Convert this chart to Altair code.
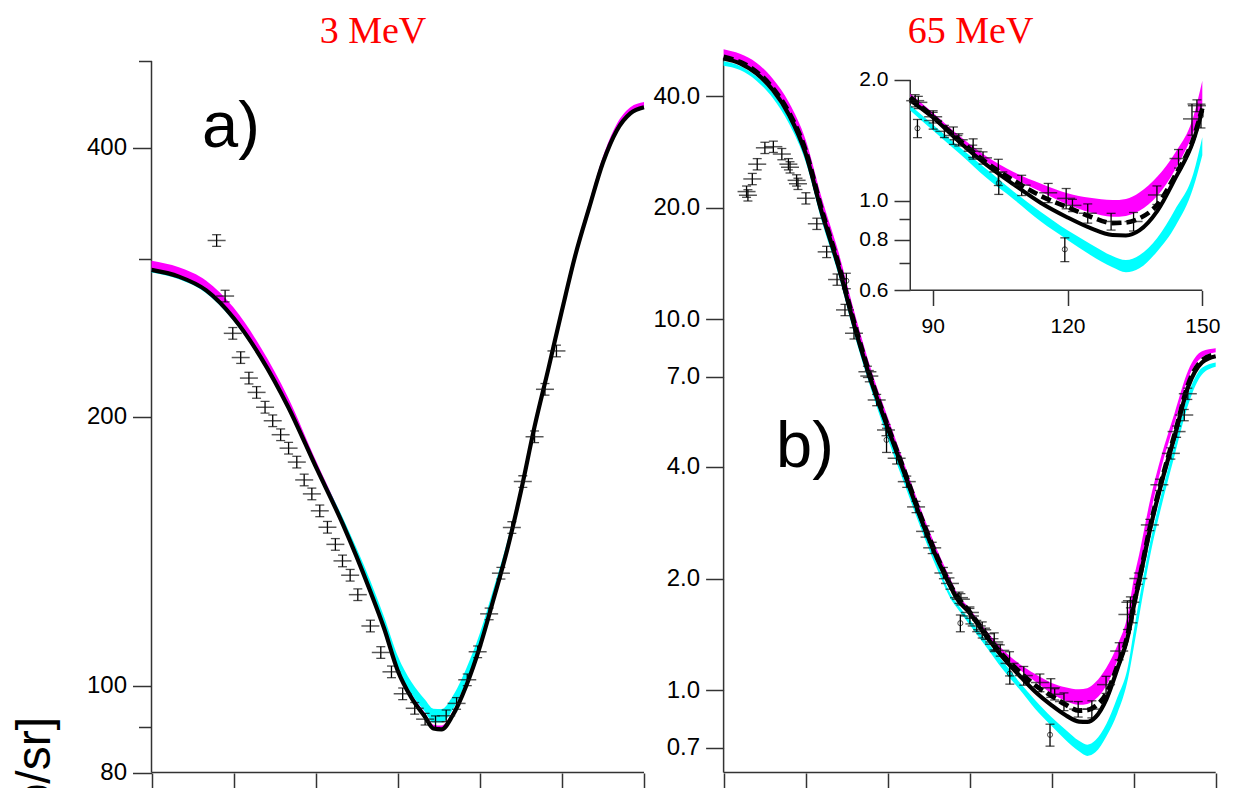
import altair as alt
import pandas as pd

W, H = 1225, 780
FONT = "Liberation Sans"
SERIF = "Liberation Serif"
AXC = "#333333"
MAG = "#FF00FF"
CYA = "#00FFFF"

# ================= panel a) 3 MeV =================
a_theta = [0, 10, 20, 30, 40, 50, 60, 70, 80, 85, 90, 95, 100, 103, 106, 110, 115, 120, 125, 130,
           135, 140, 145, 150, 155, 160, 165, 170, 175, 180]
a_black = [292, 287, 277, 258, 233, 205, 176, 151.5, 127.5, 116, 104, 97, 92.3, 89.6, 89.4, 92.6, 100, 110.6, 125, 142,
           165, 195, 226, 263, 304, 343, 385, 418, 437, 444]
a_mag_lo = [291, 286, 276, 257, 232, 204, 175, 151, 127, 115.5, 103.5, 96.5, 92, 89.3, 89.2, 92.4, 99.7, 110.2, 124.5, 141.5,
            164.5, 194, 225, 262, 303, 342, 384, 417, 436, 443]
a_mag_hi = [299, 294, 284, 265, 239, 210, 179, 153.5, 129, 117.2, 105, 98, 93.2, 90.5, 90.3, 93.5, 101, 111.8, 126.5, 143.7,
            167, 198, 229, 266, 308, 348, 391, 425, 444, 450]
a_cyan_lo = [290, 285, 275, 256, 231.5, 204, 175.5, 151.5, 128, 116.5, 104.8, 98, 93.5, 91, 91, 94, 101.3, 111.5, 125.5, 142,
             165, 194.5, 225, 262, 303, 342, 383, 416, 435, 442]
a_cyan_hi = [292.5, 287.5, 277, 258, 233.5, 206, 177.5, 154, 131, 119.5, 108, 101, 96.5, 94.3, 94.2, 97.3, 104.5, 114.5, 128.5, 145,
             167, 196, 227, 263, 304, 343, 384.5, 418, 436.5, 443.5]

a_pt_theta = [23.8, 26.9, 29.7, 32.6, 35.6, 38.4, 41.5, 44.3, 47.2, 50.1, 53.1, 55.8, 58.6, 61.5, 64.3, 67.2, 69.8, 72.6,
              75.4, 80.0, 83.8, 87.7, 91.8, 96.2, 100.0, 103.8, 107.7, 111.5, 115.4, 119.2, 123.4, 127.7, 131.7, 135.7,
              140.0, 143.8, 148.0]
a_pt_val = [315, 273, 248, 233, 221, 213, 205, 198, 191, 184.5, 178, 170, 164, 157, 150.5, 144, 138, 133, 126.5, 116.7,
            109, 103.7, 98, 94.4, 91.8, 91.2, 92.6, 95.6, 101.6, 109.2, 120.4, 133.7, 150.4, 169.3, 190, 214.7, 237]
a_pt_err = 1.5  # percent

# ================= panel b) 65 MeV =================
b_theta = [0, 6, 12, 18, 24, 30, 36, 42, 48, 54, 60, 66, 72, 78, 84, 85, 90, 96, 102, 108,
           114, 120, 125, 130, 133, 136, 140, 144, 148, 150, 152, 156, 160, 165, 170, 175, 180]
b_black = [50.5, 49.0, 46.0, 41.5, 35.5, 28.0, 19.3, 13.9, 9.5, 6.8, 5.1, 3.87, 2.92, 2.27, 1.84, 1.78, 1.615, 1.40, 1.23, 1.10,
           0.99, 0.91, 0.857, 0.823, 0.821, 0.845, 0.945, 1.14, 1.41, 1.68, 1.96, 2.72, 3.58, 4.85, 6.6, 7.65, 7.95]
b_dash = [51.0, 49.4, 46.5, 42.0, 36.0, 28.5, 19.6, 14.1, 9.65, 6.9, 5.17, 3.92, 2.96, 2.30, 1.86, 1.81, 1.625, 1.415, 1.245, 1.125,
          1.03, 0.965, 0.915, 0.881, 0.884, 0.905, 0.98, 1.16, 1.43, 1.70, 1.98, 2.76, 3.63, 4.9, 6.7, 7.75, 8.05]
b_mag_lo = [50.3, 48.9, 46.2, 41.8, 36.0, 28.6, 19.8, 14.3, 9.75, 6.95, 5.2, 3.93, 2.97, 2.31, 1.87, 1.80, 1.60, 1.41, 1.25, 1.14,
            1.055, 0.98, 0.937, 0.913, 0.918, 0.945, 1.03, 1.20, 1.48, 1.71, 2.0, 2.95, 3.95, 5.25, 6.95, 7.9, 8.15]
b_mag_hi = [53.5, 52.0, 49.2, 44.5, 38.3, 30.5, 21.1, 15.2, 10.35, 7.3, 5.45, 4.1, 3.1, 2.4, 1.92, 1.85, 1.66, 1.45, 1.29, 1.18,
            1.105, 1.045, 1.018, 1.005, 1.012, 1.05, 1.15, 1.32, 1.62, 1.99, 2.32, 3.25, 4.25, 5.6, 7.3, 8.2, 8.35]
b_cyan_lo = [48.3, 47.0, 44.0, 39.5, 33.6, 26.6, 18.3, 13.2, 9.0, 6.45, 4.78, 3.62, 2.75, 2.13, 1.72, 1.68, 1.50, 1.31, 1.14, 1.01,
             0.89, 0.80, 0.735, 0.684, 0.665, 0.68, 0.75, 0.865, 1.08, 1.30, 1.58, 2.3, 3.1, 4.3, 5.9, 7.1, 7.45]
b_cyan_hi = [49.6, 48.2, 45.2, 40.7, 34.7, 27.5, 19.0, 13.7, 9.35, 6.7, 4.95, 3.76, 2.86, 2.21, 1.77, 1.73, 1.55, 1.36, 1.20, 1.056,
             0.94, 0.845, 0.783, 0.73, 0.713, 0.733, 0.81, 0.955, 1.17, 1.44, 1.75, 2.5, 3.35, 4.6, 6.3, 7.4, 7.65]

# crosses with small errors
b_x_theta = [8.4, 8.9, 10.5, 12.3, 15.1, 18.2, 21.3, 23.7, 24.3, 26.7, 27.2, 30.1, 34.1, 37.7, 41.5, 44.4, 47.7, 52.6,
             53.3, 56.0, 59.4, 63.3, 67.0, 70.4, 73.7, 76.3, 80.4, 82.8, 86.1, 86.8, 90.1, 92.6, 95.8, 98.9, 101.2, 121.1]
b_x_val = [22.1, 21.6, 23.9, 26.2, 29.0, 29.2, 27.9, 26.2, 25.7, 23.7, 23.2, 21.2, 18.1, 15.2, 12.8, 10.6, 9.17, 7.22,
           7.03, 6.06, 5.03, 4.22, 3.65, 3.12, 2.68, 2.42, 2.07, 1.94, 1.776, 1.759, 1.62, 1.49, 1.42, 1.33, 1.28, 0.975]
b_x_err = 3.5  # percent
# crosses with larger errors
b_e_theta = [90.1, 94.6, 99.0, 104.6, 109.8, 115.7, 119.7, 124.5, 129.7, 134.7, 139.9, 144.7, 147.7, 148.8, 151.7,
             155.9, 159.4, 163.6, 165.7, 168.5, 169.8]
b_e_val = [1.585, 1.455, 1.349, 1.181, 1.095, 1.048, 1.015, 0.932, 0.889, 0.889, 1.035, 1.275, 1.60, 1.726, 2.0,
           2.79, 3.58, 4.35, 4.98, 5.52, 6.3]
b_e_err = [4.8, 5.0, 5.8, 7.5, 5.8, 5.5, 5.8, 5.5, 4.8, 5.3, 5.3, 5.3, 8.9, 3.4, 3.5, 3.5, 3.5, 3.5, 3.5, 3.5, 3.5]
# open circles
b_c_theta = [44.9, 59.6, 86.6, 104.7, 119.4, 149.7]
b_c_val = [12.7, 4.73, 1.516, 1.108, 0.758, 1.63]
b_c_err = [4.8, 7.5, 5.2, 6.3, 6.8, 6.8]

a_yticks = [80, 90, 100, 200, 300, 400, 500]
b_yticks = [0.7, 1.0, 2.0, 4.0, 7.0, 10.0, 20.0, 40.0]
in_yticks = [0.6, 0.7, 0.8, 0.9, 1.0, 2.0]
in_xticks = [90, 120, 150]
x_ticks = [0, 30, 60, 90, 120, 150, 180]


# ---------------- frames ----------------
def curves_frame(theta, black, mlo, mhi, clo, chi, dash=None):
    d = {"theta": theta, "black": black, "mlo": mlo, "mhi": mhi, "clo": clo, "chi": chi}
    if dash is not None:
        d["dash"] = dash
    return pd.DataFrame(d)


def points_frame(theta, val, err):
    df = pd.DataFrame({"theta": theta, "v": val})
    if isinstance(err, list):
        e = pd.Series(err, dtype=float) / 100.0
    else:
        e = err / 100.0
    df["lo"] = df["v"] * (1 - e)
    df["hi"] = df["v"] * (1 + e)
    return df


A_cur = curves_frame(a_theta, a_black, a_mag_lo, a_mag_hi, a_cyan_lo, a_cyan_hi)
A_x = points_frame(a_pt_theta, a_pt_val, a_pt_err)
B_cur = curves_frame(b_theta, b_black, b_mag_lo, b_mag_hi, b_cyan_lo, b_cyan_hi, b_dash)
B_x = pd.concat([points_frame(b_x_theta, b_x_val, b_x_err), points_frame(b_e_theta, b_e_val, b_e_err)])
B_c = points_frame(b_c_theta, b_c_val, b_c_err)


def in_range(df, lo=85, hi=150):
    return df[(df["theta"] >= lo) & (df["theta"] <= hi)].reset_index(drop=True)


I_cur = in_range(B_cur)
I_x = in_range(B_x)
I_c = in_range(B_c)


# ---------------- axes ----------------
def mk_axis(orient, offset, values, size, tick, minor=None, show=None, labels=True, fmt=None, pad=6):
    kw = dict(orient=orient, offset=offset, values=values, domain=False, grid=False, title="",
              tickColor=AXC, tickWidth=1.5, labels=labels, labelFont=FONT, labelFontSize=size,
              labelColor="black", labelPadding=pad, labelOverlap=False, labelFlush=False)
    if minor:
        test = " || ".join(f"datum.value == {m}" for m in minor)
        kw["tickSize"] = {"condition": {"test": test, "value": round(tick * 0.68)}, "value": tick}
    else:
        kw["tickSize"] = tick
    if show:
        test = " || ".join(f"datum.value == {s}" for s in show)
        kw["labelExpr"] = f"({test}) ? datum.label : ''"
    if fmt:
        kw["format"] = fmt
    return alt.Axis(**kw)


def build_panel(curves, crosses, circles, xs, ys, xax, yax, axis_lines, lw):
    def X(f):
        return alt.X(f, type="quantitative", scale=xs, axis=xax)

    def Y(f):
        return alt.Y(f, type="quantitative", scale=ys, axis=yax)

    layers = [alt.Chart(axis_lines).mark_rule(color=AXC, strokeWidth=1.5).encode(
        x=X("x"), x2=alt.X2("x2"), y=Y("y"), y2=alt.Y2("y2"))]
    c = alt.Chart(curves)
    layers.append(c.mark_area(color=MAG, interpolate="monotone").encode(x=X("theta"), y=Y("mlo"), y2=alt.Y2("mhi")))
    layers.append(c.mark_area(color=CYA, interpolate="monotone").encode(x=X("theta"), y=Y("clo"), y2=alt.Y2("chi")))
    layers.append(c.mark_line(color="black", strokeWidth=lw, interpolate="monotone").encode(x=X("theta"), y=Y("black")))
    if "dash" in curves.columns:
        layers.append(c.mark_line(color="black", strokeWidth=lw + 0.6, strokeDash=[10, 5],
                                  interpolate="monotone").encode(x=X("theta"), y=Y("dash")))
    for df, kind in ((crosses, "x"), (circles, "o")):
        if df is None or len(df) == 0:
            continue
        p = alt.Chart(df)
        layers.append(p.mark_rule(color="black", strokeWidth=1.3).encode(x=X("theta"), y=Y("lo"), y2=alt.Y2("hi")))
        layers.append(p.mark_tick(orient="horizontal", size=9, thickness=1.3, color="black").encode(x=X("theta"), y=Y("lo")))
        layers.append(p.mark_tick(orient="horizontal", size=9, thickness=1.3, color="black").encode(x=X("theta"), y=Y("hi")))
        if kind == "x":
            layers.append(p.mark_tick(orient="horizontal", size=18, thickness=1.5, color="#111111").encode(
                x=X("theta"), y=Y("v")))
        else:
            layers.append(p.mark_point(shape="circle", filled=False, size=26, color="black", strokeWidth=1).encode(
                x=X("theta"), y=Y("v")))
    return alt.layer(*layers)


# scales (canvas-wide domains so each panel lands in its own place)
A_xs = alt.Scale(domain=[-52.45, 395.27], nice=False, zero=False)
A_ys = alt.Scale(type="log", domain=[76.88, 573.3], nice=False)
B_xs = alt.Scale(domain=[-261.75, 186.33], nice=False, zero=False)
B_ys = alt.Scale(type="log", domain=[0.5448, 69.08], nice=False)
I_xs = alt.Scale(domain=[-115.8, 156.83], nice=False, zero=False)
I_ys = alt.Scale(type="log", domain=[0.03465, 3.020], nice=False)

A_xax = mk_axis("bottom", -15, x_ticks, 24, 17, labels=False)
A_yax = mk_axis("left", -143.5, a_yticks, 24, 19, minor=[90, 300, 500], show=[80, 100, 200, 400])
B_xax = mk_axis("bottom", -15, x_ticks, 24, 17, labels=False)
B_yax = mk_axis("left", -715.6, b_yticks, 24, 18, fmt=".1f")
I_xax = mk_axis("bottom", -497.5, in_xticks, 21, 15, pad=10)
I_yax = mk_axis("left", -902, in_yticks, 21, 16, minor=[0.7, 0.9], show=[0.6, 0.8, 1.0, 2.0], fmt=".1f")

A_lines = pd.DataFrame({"x": [0, 0], "x2": [180, 0], "y": [80, 80], "y2": [80, 500]})
B_lines = pd.DataFrame({"x": [0, 0], "x2": [180, 0], "y": [0.6, 0.6], "y2": [0.6, 50.6]})
I_lines = pd.DataFrame({"x": [85, 85], "x2": [150, 85], "y": [0.6, 0.6], "y2": [0.6, 2.0]})

panelA = build_panel(A_cur, A_x, None, A_xs, A_ys, A_xax, A_yax, A_lines, 4.2)
panelB = build_panel(B_cur, B_x, B_c, B_xs, B_ys, B_xax, B_yax, B_lines, 4.2)
inset = build_panel(I_cur, I_x, I_c, I_xs, I_ys, I_xax, I_yax, I_lines, 4.0)


def label(text, x, y, size, font, color="black", angle=0, align="left", baseline="alphabetic"):
    kw = dict(fontSize=size, font=font, color=color, align=align, baseline=baseline)
    if angle:
        kw["angle"] = angle
    return alt.Chart(pd.DataFrame({"t": [text]})).mark_text(**kw).encode(
        text="t:N", x=alt.value(x), y=alt.value(y))


texts = [
    label("3 MeV", 365, 34.7, 38, SERIF, color="#FF0000", align="center"),
    label("65 MeV", 962.6, 34.7, 38, SERIF, color="#FF0000", align="center"),
    label("a)", 194, 138.7, 65, FONT),
    label("b)", 768, 458.7, 65, FONT),
    label("dσ/dΩ [mb/sr]", 42, 709, 48, FONT, angle=270, align="right"),
]

chart = (
    alt.layer(panelA, panelB, inset, *texts)
    .resolve_scale(x="independent", y="independent")
    .properties(width=W, height=H, autosize=alt.AutoSizeParams(type="none"), padding=0)
    .configure_view(strokeWidth=0)
)

chart.save("out.html", embed_options={"renderer": "svg", "actions": False})
